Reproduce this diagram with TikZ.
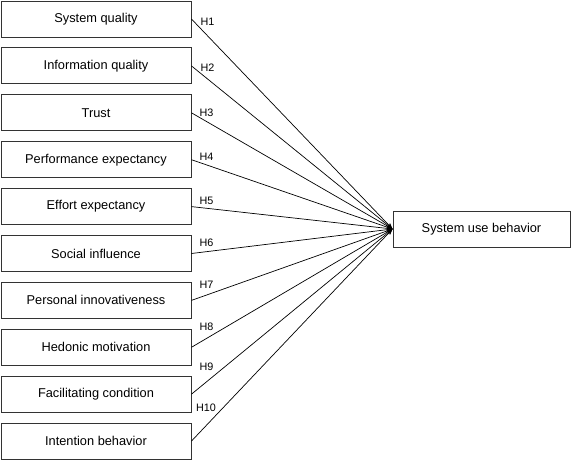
\documentclass[tikz,border=0pt]{standalone}
\usepackage{fontspec}
\setmainfont{Liberation Sans}
\usetikzlibrary{arrows.meta}
\begin{document}
\begin{tikzpicture}[x=1pt,y=-1pt,
  factor/.style={draw=black!80,line width=0.9pt,minimum width=190pt,minimum height=36pt,inner sep=0pt,font=\fontsize{12.8}{14}\selectfont},
  outcome/.style={draw=black!80,line width=0.9pt,minimum width=177pt,minimum height=36pt,inner sep=0pt,font=\fontsize{12.8}{14}\selectfont},
  hyp/.style={line width=0.7pt,-{Stealth[length=6pt,width=4.5pt]}},
  hlab/.style={inner sep=0pt,font=\fontsize{10.8}{12}\selectfont}]
\useasboundingbox (0,0) rectangle (571,460);
\node[factor] (f1) at (96,19) {System quality};
\node[factor] (f2) at (96,65.9) {Information quality};
\node[factor] (f3) at (96,112.8) {Trust};
\node[factor] (f4) at (96,159.7) {Performance expectancy};
\node[factor] (f5) at (96,206.6) {Effort expectancy};
\node[factor] (f6) at (96,253.5) {Social influence};
\node[factor] (f7) at (96,300.4) {Personal innovativeness};
\node[factor] (f8) at (96,347.3) {Hedonic motivation};
\node[factor] (f9) at (96,394.2) {Facilitating condition};
\node[factor] (f10) at (96,441.1) {Intention behavior};
\node[outcome] (y) at (481.5,229) {System use behavior};
\foreach \i in {1,...,10} {\draw[hyp] (f\i.east) -- (y.west);}
\node[hlab] (h1) at (207.5,22) {H1};
\node[hlab] (h2) at (207.5,68) {H2};
\node[hlab] (h3) at (206.5,113) {H3};
\node[hlab] (h4) at (206.5,157) {H4};
\node[hlab] (h5) at (206.5,201) {H5};
\node[hlab] (h6) at (206.5,243) {H6};
\node[hlab] (h7) at (206.5,285) {H7};
\node[hlab] (h8) at (206.5,327) {H8};
\node[hlab] (h9) at (206.5,367) {H9};
\node[hlab] (h10) at (206,408) {H10};
\end{tikzpicture}
\end{document}
